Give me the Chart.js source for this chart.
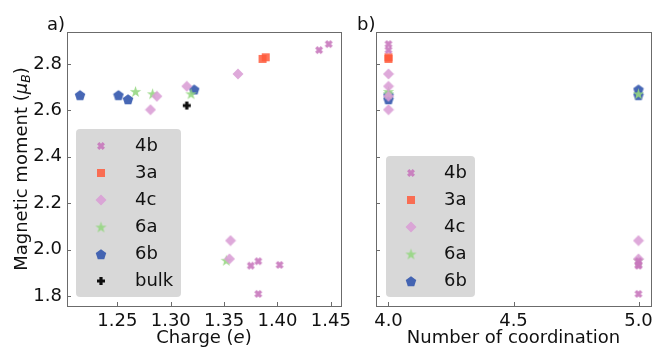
<!DOCTYPE html>
<html>
<head>
<meta charset="utf-8">
<script src="https://cdn.jsdelivr.net/npm/chart.js@4.4.0/dist/chart.umd.min.js"></script>
<style>
  html, body { margin: 0; padding: 0; background: #fff; }
  #wrap { position: relative; width: 654px; height: 349px; }
  #chargeChart { position: absolute; left: 0; top: 0; }
  #coordChart { position: absolute; left: 345px; top: 0; }
</style>
</head>
<body>
<div id="wrap">
  <canvas id="chargeChart" width="360" height="349"></canvas>
  <canvas id="coordChart" width="309" height="349"></canvas>
</div>
<script>
const FONT = '"DejaVu Sans", sans-serif';

// Wyckoff sites, per site: Bader charge (e), magnetic moment (uB), coordination
const charge4b = [1.439, 1.448, 1.375, 1.382, 1.402, 1.382];
const moment4b = [2.860, 2.886, 1.931, 1.950, 1.934, 1.809];
const coord4b  = [4, 4, 5, 5, 5, 5];

const charge3a = [1.386, 1.389];
const moment3a = [2.822, 2.829];
const coord3a  = [4, 4];

const charge4c = [1.287, 1.281, 1.315, 1.363, 1.356, 1.355];
const moment4c = [2.661, 2.603, 2.704, 2.757, 2.039, 1.960];
const coord4c  = [4, 4, 4, 4, 5, 5];

const charge6a = [1.267, 1.283, 1.319, 1.352];
const moment6a = [2.682, 2.672, 2.672, 1.954];
const coord6a  = [4, 4, 5, 5];

const charge6b = [1.215, 1.251, 1.260, 1.322];
const moment6b = [2.667, 2.667, 2.649, 2.691];
const coord6b  = [4, 5, 4, 5];

const chargeBulk = [1.315];
const momentBulk = [2.621];

const chargeTicks = [1.25, 1.30, 1.35, 1.40, 1.45];
const coordTicks  = [4.0, 4.5, 5.0];
const momentTicks = [1.8, 2.0, 2.2, 2.4, 2.6, 2.8];

// ---- marker sprites (matplotlib-like filled shapes) ----
function makeMarker(shape, color, size) {
  const c = document.createElement('canvas');
  c.width = c.height = size;
  const g = c.getContext('2d');
  const h = size / 2;
  g.translate(h, h);
  g.fillStyle = color;
  g.beginPath();
  if (shape === 'x' || shape === 'plus') {
    const r = size / 2 - 1, t = size * 0.32;
    g.save();
    if (shape === 'x') g.rotate(Math.PI / 4);
    g.rect(-r, -t / 2, 2 * r, t);
    g.rect(-t / 2, -r, t, 2 * r);
    g.restore();
  } else if (shape === 'square') {
    const r = size / 2 - 1;
    g.rect(-r, -r, 2 * r, 2 * r);
  } else if (shape === 'diamond') {
    const r = size / 2 - 0.5;
    g.moveTo(0, -r); g.lineTo(r, 0); g.lineTo(0, r); g.lineTo(-r, 0);
  } else if (shape === 'star' || shape === 'pentagon') {
    const R = size / 2 - 0.5;
    const n = shape === 'star' ? 10 : 5;
    for (let i = 0; i < n; i++) {
      const a = -Math.PI / 2 + i * 2 * Math.PI / n;
      const rr = (shape === 'star' && i % 2) ? R * 0.382 : R;
      const px = rr * Math.cos(a), py = rr * Math.sin(a) + (shape === 'pentagon' ? 0.8 : 0.6);
      i ? g.lineTo(px, py) : g.moveTo(px, py);
    }
  }
  g.closePath();
  g.fill();
  return c;
}

const mk4b   = makeMarker('x', 'rgba(200,120,188,0.9)', 10);
const mk3a   = makeMarker('square', 'rgba(255,90,60,0.85)', 10);
const mk4c   = makeMarker('diamond', 'rgba(218,160,214,0.9)', 12);
const mk6a   = makeMarker('star', 'rgba(150,215,130,0.9)', 13);
const mk6b   = makeMarker('pentagon', 'rgba(55,90,175,0.92)', 12);
const mkBulk = makeMarker('plus', 'rgba(15,15,15,1)', 10);

const pairs = (xs, ys) => xs.map((x, i) => ({ x, y: ys[i] }));
const ds = (label, style, xs, ys) => ({
  label, data: pairs(xs, ys), pointStyle: style, pointRadius: 5, clip: false
});

// ---- drawing helpers ----
function drawRich(ctx, parts, cx, baseline) {
  let w = 0;
  parts.forEach(p => { ctx.font = p.font; w += ctx.measureText(p.text).width; });
  let x = cx - w / 2;
  ctx.textAlign = 'left';
  ctx.textBaseline = 'alphabetic';
  parts.forEach(p => {
    ctx.font = p.font;
    ctx.fillText(p.text, x, baseline + (p.dy || 0));
    x += ctx.measureText(p.text).width;
  });
}

// frame, inward ticks, rich axis titles, panel tag and boxed legend
const panelPlugin = {
  id: 'panel',
  afterDraw(chart, args, o) {
    const { ctx, chartArea: a, scales } = chart;
    ctx.save();
    ctx.strokeStyle = '#6b6b6b';
    ctx.lineWidth = 1;
    ctx.beginPath();
    scales.x.ticks.forEach(t => {
      const px = Math.round(scales.x.getPixelForValue(t.value)) + 0.5;
      ctx.moveTo(px, a.bottom); ctx.lineTo(px, a.bottom - 4);
    });
    scales.y.ticks.forEach(t => {
      const py = Math.round(scales.y.getPixelForValue(t.value)) + 0.5;
      ctx.moveTo(a.left, py); ctx.lineTo(a.left + 4, py);
    });
    ctx.stroke();
    ctx.strokeRect(Math.round(a.left) + 0.5, Math.round(a.top) + 0.5,
      Math.round(a.right - a.left), Math.round(a.bottom - a.top));

    ctx.fillStyle = '#111';
    ctx.font = '18px ' + FONT;
    ctx.textAlign = 'left';
    ctx.textBaseline = 'alphabetic';
    ctx.fillText(o.tag, o.tagX, 30);

    drawRich(ctx, o.xTitle, (a.left + a.right) / 2, 343);
    if (o.yTitle) {
      ctx.save();
      ctx.translate(27, (a.top + a.bottom) / 2);
      ctx.rotate(-Math.PI / 2);
      drawRich(ctx, o.yTitle, 0, 0);
      ctx.restore();
    }

    // legend
    const L = o.legend;
    ctx.fillStyle = 'rgba(214,214,214,0.95)';
    ctx.beginPath();
    ctx.roundRect(L.x, L.y, L.w, L.h, 4);
    ctx.fill();
    ctx.font = '18px ' + FONT;
    ctx.textBaseline = 'middle';
    chart.data.datasets.forEach((d, i) => {
      const ry = L.y + L.first + i * L.step;
      const img = d.pointStyle;
      ctx.drawImage(img, L.markX - img.width / 2, ry - img.height / 2);
      ctx.fillStyle = '#111';
      ctx.fillText(d.label, L.textX, ry);
    });
    ctx.restore();
  }
};

function fixedTicks(values) {
  return scale => { scale.ticks = values.map(v => ({ value: v })); };
}

function makeChart(id, datasets, xMin, xMax, xTicks, xDigits, showYLabels, yAxisWidth, padRight, panel) {
  return new Chart(document.getElementById(id), {
    type: 'scatter',
    data: { datasets },
    options: {
      responsive: false,
      animation: false,
      events: [],
      layout: { autoPadding: false, padding: { top: 32, right: padRight, bottom: 0, left: 0 } },
      scales: {
        x: {
          type: 'linear', min: xMin, max: xMax,
          grid: { display: false, drawTicks: false },
          border: { display: false },
          afterBuildTicks: fixedTicks(xTicks),
          afterFit: s => {
            s.height = 43;
            s.paddingLeft = s.paddingRight = 0;
          },
          ticks: {
            padding: 5, color: '#111', maxRotation: 0, autoSkip: false,
            font: { family: FONT, size: 18 },
            callback: v => Number(v).toFixed(xDigits)
          }
        },
        y: {
          type: 'linear', min: 1.757, max: 2.938,
          grid: { display: false, drawTicks: false },
          border: { display: false },
          afterBuildTicks: fixedTicks(momentTicks),
          afterFit: s => {
            s.width = yAxisWidth;
            s.paddingTop = s.paddingBottom = 0;
          },
          ticks: {
            display: showYLabels, padding: 5, color: '#111', autoSkip: false,
            font: { family: FONT, size: 18 },
            callback: v => Number(v).toFixed(1)
          }
        }
      },
      plugins: {
        legend: { display: false },
        tooltip: { enabled: false },
        panel
      }
    },
    plugins: [panelPlugin]
  });
}

const f18 = '18px ' + FONT, i18 = 'italic 18px ' + FONT, i13 = 'italic 12.5px ' + FONT;

makeChart('chargeChart', [
  ds('4b', mk4b, charge4b, moment4b),
  ds('3a', mk3a, charge3a, moment3a),
  ds('4c', mk4c, charge4c, moment4c),
  ds('6a', mk6a, charge6a, moment6a),
  ds('6b', mk6b, charge6b, moment6b),
  ds('bulk', mkBulk, chargeBulk, momentBulk)
], 1.2028, 1.4595, chargeTicks, 2, true, 67, 19, {
  tag: 'a)', tagX: 47,
  xTitle: [{ text: 'Charge (', font: f18 }, { text: 'e', font: i18 }, { text: ')', font: f18 }],
  yTitle: [{ text: 'Magnetic moment (', font: f18 }, { text: 'μ', font: i18 },
           { text: 'B', font: i13, dy: 3 }, { text: ')', font: f18 }],
  legend: { x: 76, y: 129, w: 105, h: 168, first: 17, step: 27, markX: 101, textX: 135 }
});

makeChart('coordChart', [
  ds('4b', mk4b, coord4b, moment4b),
  ds('3a', mk3a, coord3a, moment3a),
  ds('4c', mk4c, coord4c, moment4c),
  ds('6a', mk6a, coord6a, moment6a),
  ds('6b', mk6b, coord6b, moment6b)
], 3.95, 5.05, coordTicks, 1, false, 31, 3, {
  tag: 'b)', tagX: 12,
  xTitle: [{ text: 'Number of coordination', font: f18 }],
  yTitle: null,
  legend: { x: 41, y: 156, w: 89, h: 141, first: 17, step: 27, markX: 66, textX: 99 }
});
</script>
</body>
</html>
